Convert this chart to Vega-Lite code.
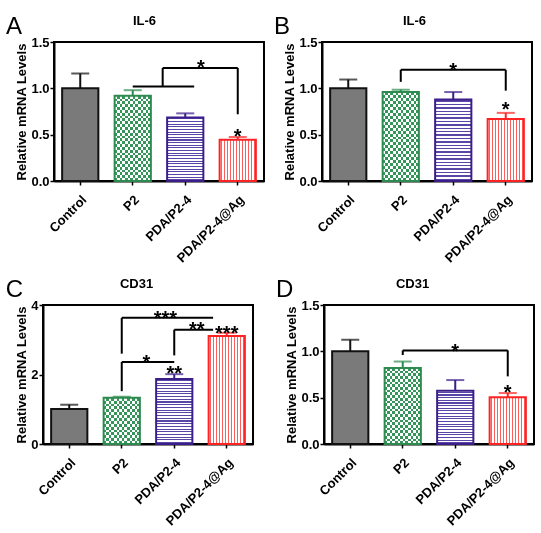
{
"$schema": "https://vega.github.io/schema/vega-lite/v6.json",
"background": "white",
"padding": {"left": 3, "top": 13, "right": 2, "bottom": 2},
"datasets": {
"bars": [
 {"panel":"A","group":"Control","mean":1.0,"upper":1.16},
 {"panel":"A","group":"P2","mean":0.92,"upper":0.98},
 {"panel":"A","group":"PDA/P2-4","mean":0.685,"upper":0.73},
 {"panel":"A","group":"PDA/P2-4@Ag","mean":0.445,"upper":0.475},
 {"panel":"B","group":"Control","mean":1.0,"upper":1.095},
 {"panel":"B","group":"P2","mean":0.96,"upper":0.985},
 {"panel":"B","group":"PDA/P2-4","mean":0.88,"upper":0.96},
 {"panel":"B","group":"PDA/P2-4@Ag","mean":0.67,"upper":0.735},
 {"panel":"C","group":"Control","mean":1.01,"upper":1.13},
 {"panel":"C","group":"P2","mean":1.33,"upper":1.36},
 {"panel":"C","group":"PDA/P2-4","mean":1.87,"upper":2.01},
 {"panel":"C","group":"PDA/P2-4@Ag","mean":3.11,"upper":3.2},
 {"panel":"D","group":"Control","mean":1.0,"upper":1.125},
 {"panel":"D","group":"P2","mean":0.82,"upper":0.89},
 {"panel":"D","group":"PDA/P2-4","mean":0.575,"upper":0.69},
 {"panel":"D","group":"PDA/P2-4@Ag","mean":0.505,"upper":0.55}
],
"barstars": [
 {"panel":"A","group":"PDA/P2-4@Ag","y":0.54,"label":"*"},
 {"panel":"B","group":"PDA/P2-4@Ag","y":0.83,"label":"*"},
 {"panel":"C","group":"PDA/P2-4","y":2.18,"label":"**"},
 {"panel":"C","group":"PDA/P2-4@Ag","y":3.35,"label":"***"},
 {"panel":"D","group":"PDA/P2-4@Ag","y":0.61,"label":"*"}
],
"lines": [
 {"panel":"A","x":2,"x2":3.17,"y":1.02,"y2":1.02},
 {"panel":"A","x":2.57,"x2":2.57,"y":1.02,"y2":1.22},
 {"panel":"A","x":2.57,"x2":4,"y":1.22,"y2":1.22},
 {"panel":"A","x":4,"x2":4,"y":1.22,"y2":0.72},
 {"panel":"B","x":2,"x2":2,"y":1.07,"y2":1.2},
 {"panel":"B","x":2,"x2":4,"y":1.2,"y2":1.2},
 {"panel":"B","x":4,"x2":4,"y":1.2,"y2":0.975},
 {"panel":"C","x":2,"x2":2,"y":1.52,"y2":2.36},
 {"panel":"C","x":2,"x2":3,"y":2.36,"y2":2.36},
 {"panel":"C","x":2,"x2":2,"y":2.6,"y2":3.63},
 {"panel":"C","x":2,"x2":3.74,"y":3.63,"y2":3.63},
 {"panel":"C","x":3,"x2":3,"y":2.55,"y2":3.29},
 {"panel":"C","x":3,"x2":3.74,"y":3.29,"y2":3.29},
 {"panel":"D","x":2,"x2":2,"y":0.96,"y2":1.01},
 {"panel":"D","x":2,"x2":4,"y":1.01,"y2":1.01},
 {"panel":"D","x":4,"x2":4,"y":1.01,"y2":0.73}
],
"brstars": [
 {"panel":"A","x":3.3,"y":1.28,"label":"*"},
 {"panel":"B","x":3.0,"y":1.25,"label":"*"},
 {"panel":"C","x":2.47,"y":2.5,"label":"*"},
 {"panel":"C","x":2.83,"y":3.76,"label":"***"},
 {"panel":"C","x":3.43,"y":3.46,"label":"**"},
 {"panel":"D","x":3.0,"y":1.06,"label":"*"}
]
},
"vconcat": [
 {"spacing": 0, "hconcat": [
  {"width": 1, "height": 1, "view": {"stroke": null}, "data": {"values": []}, "mark": "point"},
  {"spacing": 7, "hconcat": [
  {
   "width":210,"height":139,
   "title":{"text":"A","anchor":"start","frame":"bounds","fontSize":24,"fontWeight":"normal","offset":-26,"dx":-10,"dy":18,"baseline":"alphabetic","color":"#000"},
   "resolve":{"scale":{"x":"independent"}},
   "layer":[
    {"data":{"name":"bars"},"transform":[{"filter":"datum.panel === 'A'"}],
     "encoding":{
      "x":{"field":"group","type":"nominal","sort":null,"title":null,"scale":{"domain":["Control","P2","PDA/P2-4","PDA/P2-4@Ag"],"paddingInner":0,"paddingOuter":0},"axis":{"orient":"bottom","labelAngle":-45,"labelPadding":8}},
      "y":{"field":"mean","type":"quantitative","title":"Relative mRNA Levels","scale":{"domain":[0,1.5],"nice":false},"axis":{"values":[0,0.5,1,1.5],"format":".1f","titlePadding":2,"labelPadding":1}}
     },
     "layer":[
      {"transform":[{"filter":"datum.group === 'Control'"}],"mark":{"type":"bar","width":{"band":0.69},"fill":"#7a7a7a"}},
      {"transform":[{"filter":"datum.group === 'P2'"}],"mark":{"type":"bar","width":{"band":0.69},"fill":{"gradient":"linear","x1":0,"y1":0,"x2":1,"y2":0,"stops":[
{"offset":0,"color":"#c96aa5"},{"offset":0.0714,"color":"#c96aa5"},{"offset":0.0714,"color":"#000"},{"offset":0.1429,"color":"#000"},
{"offset":0.1429,"color":"#c96aa5"},{"offset":0.2143,"color":"#c96aa5"},{"offset":0.2143,"color":"#000"},{"offset":0.2857,"color":"#000"},
{"offset":0.2857,"color":"#c96aa5"},{"offset":0.3571,"color":"#c96aa5"},{"offset":0.3571,"color":"#000"},{"offset":0.4286,"color":"#000"},
{"offset":0.4286,"color":"#c96aa5"},{"offset":0.5,"color":"#c96aa5"},{"offset":0.5,"color":"#000"},{"offset":0.5714,"color":"#000"},
{"offset":0.5714,"color":"#c96aa5"},{"offset":0.6429,"color":"#c96aa5"},{"offset":0.6429,"color":"#000"},{"offset":0.7143,"color":"#000"},
{"offset":0.7143,"color":"#c96aa5"},{"offset":0.7857,"color":"#c96aa5"},{"offset":0.7857,"color":"#000"},{"offset":0.8571,"color":"#000"},
{"offset":0.8571,"color":"#c96aa5"},{"offset":0.9286,"color":"#c96aa5"},{"offset":0.9286,"color":"#000"},{"offset":1,"color":"#000"}]}}},
      {"transform":[{"filter":"datum.group === 'P2'"}],"mark":{"type":"bar","width":{"band":0.69},"blend":"difference","fill":{"gradient":"linear","x1":0,"y1":0,"x2":0,"y2":1,"stops":[
{"offset":0,"color":"#c96aa5"},{"offset":0.0333,"color":"#c96aa5"},{"offset":0.0333,"color":"#000"},{"offset":0.0667,"color":"#000"},
{"offset":0.0667,"color":"#c96aa5"},{"offset":0.1,"color":"#c96aa5"},{"offset":0.1,"color":"#000"},{"offset":0.1333,"color":"#000"},
{"offset":0.1333,"color":"#c96aa5"},{"offset":0.1667,"color":"#c96aa5"},{"offset":0.1667,"color":"#000"},{"offset":0.2,"color":"#000"},
{"offset":0.2,"color":"#c96aa5"},{"offset":0.2333,"color":"#c96aa5"},{"offset":0.2333,"color":"#000"},{"offset":0.2667,"color":"#000"},
{"offset":0.2667,"color":"#c96aa5"},{"offset":0.3,"color":"#c96aa5"},{"offset":0.3,"color":"#000"},{"offset":0.3333,"color":"#000"},
{"offset":0.3333,"color":"#c96aa5"},{"offset":0.3667,"color":"#c96aa5"},{"offset":0.3667,"color":"#000"},{"offset":0.4,"color":"#000"},
{"offset":0.4,"color":"#c96aa5"},{"offset":0.4333,"color":"#c96aa5"},{"offset":0.4333,"color":"#000"},{"offset":0.4667,"color":"#000"},
{"offset":0.4667,"color":"#c96aa5"},{"offset":0.5,"color":"#c96aa5"},{"offset":0.5,"color":"#000"},{"offset":0.5333,"color":"#000"},
{"offset":0.5333,"color":"#c96aa5"},{"offset":0.5667,"color":"#c96aa5"},{"offset":0.5667,"color":"#000"},{"offset":0.6,"color":"#000"},
{"offset":0.6,"color":"#c96aa5"},{"offset":0.6333,"color":"#c96aa5"},{"offset":0.6333,"color":"#000"},{"offset":0.6667,"color":"#000"},
{"offset":0.6667,"color":"#c96aa5"},{"offset":0.7,"color":"#c96aa5"},{"offset":0.7,"color":"#000"},{"offset":0.7333,"color":"#000"},
{"offset":0.7333,"color":"#c96aa5"},{"offset":0.7667,"color":"#c96aa5"},{"offset":0.7667,"color":"#000"},{"offset":0.8,"color":"#000"},
{"offset":0.8,"color":"#c96aa5"},{"offset":0.8333,"color":"#c96aa5"},{"offset":0.8333,"color":"#000"},{"offset":0.8667,"color":"#000"},
{"offset":0.8667,"color":"#c96aa5"},{"offset":0.9,"color":"#c96aa5"},{"offset":0.9,"color":"#000"},{"offset":0.9333,"color":"#000"},
{"offset":0.9333,"color":"#c96aa5"},{"offset":0.9667,"color":"#c96aa5"},{"offset":0.9667,"color":"#000"},{"offset":1,"color":"#000"}]}}},
      {"transform":[{"filter":"datum.group === 'P2'"}],"mark":{"type":"bar","width":{"band":0.69},"fill":"#fff","blend":"difference"}},
      {"transform":[{"filter":"datum.group === 'PDA/P2-4'"}],"mark":{"type":"bar","width":{"band":0.69},"fill":{"gradient":"linear","x1":0,"y1":0,"x2":0,"y2":1,"stops":[
{"offset":0,"color":"#fff"},
{"offset":0.0125,"color":"#fff"},{"offset":0.0125,"color":"#5a46a6"},{"offset":0.0292,"color":"#5a46a6"},{"offset":0.0292,"color":"#fff"},
{"offset":0.0542,"color":"#fff"},{"offset":0.0542,"color":"#5a46a6"},{"offset":0.0708,"color":"#5a46a6"},{"offset":0.0708,"color":"#fff"},
{"offset":0.0958,"color":"#fff"},{"offset":0.0958,"color":"#5a46a6"},{"offset":0.1125,"color":"#5a46a6"},{"offset":0.1125,"color":"#fff"},
{"offset":0.1375,"color":"#fff"},{"offset":0.1375,"color":"#5a46a6"},{"offset":0.1542,"color":"#5a46a6"},{"offset":0.1542,"color":"#fff"},
{"offset":0.1792,"color":"#fff"},{"offset":0.1792,"color":"#5a46a6"},{"offset":0.1958,"color":"#5a46a6"},{"offset":0.1958,"color":"#fff"},
{"offset":0.2208,"color":"#fff"},{"offset":0.2208,"color":"#5a46a6"},{"offset":0.2375,"color":"#5a46a6"},{"offset":0.2375,"color":"#fff"},
{"offset":0.2625,"color":"#fff"},{"offset":0.2625,"color":"#5a46a6"},{"offset":0.2792,"color":"#5a46a6"},{"offset":0.2792,"color":"#fff"},
{"offset":0.3042,"color":"#fff"},{"offset":0.3042,"color":"#5a46a6"},{"offset":0.3208,"color":"#5a46a6"},{"offset":0.3208,"color":"#fff"},
{"offset":0.3458,"color":"#fff"},{"offset":0.3458,"color":"#5a46a6"},{"offset":0.3625,"color":"#5a46a6"},{"offset":0.3625,"color":"#fff"},
{"offset":0.3875,"color":"#fff"},{"offset":0.3875,"color":"#5a46a6"},{"offset":0.4042,"color":"#5a46a6"},{"offset":0.4042,"color":"#fff"},
{"offset":0.4292,"color":"#fff"},{"offset":0.4292,"color":"#5a46a6"},{"offset":0.4458,"color":"#5a46a6"},{"offset":0.4458,"color":"#fff"},
{"offset":0.4708,"color":"#fff"},{"offset":0.4708,"color":"#5a46a6"},{"offset":0.4875,"color":"#5a46a6"},{"offset":0.4875,"color":"#fff"},
{"offset":0.5125,"color":"#fff"},{"offset":0.5125,"color":"#5a46a6"},{"offset":0.5292,"color":"#5a46a6"},{"offset":0.5292,"color":"#fff"},
{"offset":0.5542,"color":"#fff"},{"offset":0.5542,"color":"#5a46a6"},{"offset":0.5708,"color":"#5a46a6"},{"offset":0.5708,"color":"#fff"},
{"offset":0.5958,"color":"#fff"},{"offset":0.5958,"color":"#5a46a6"},{"offset":0.6125,"color":"#5a46a6"},{"offset":0.6125,"color":"#fff"},
{"offset":0.6375,"color":"#fff"},{"offset":0.6375,"color":"#5a46a6"},{"offset":0.6542,"color":"#5a46a6"},{"offset":0.6542,"color":"#fff"},
{"offset":0.6792,"color":"#fff"},{"offset":0.6792,"color":"#5a46a6"},{"offset":0.6958,"color":"#5a46a6"},{"offset":0.6958,"color":"#fff"},
{"offset":0.7208,"color":"#fff"},{"offset":0.7208,"color":"#5a46a6"},{"offset":0.7375,"color":"#5a46a6"},{"offset":0.7375,"color":"#fff"},
{"offset":0.7625,"color":"#fff"},{"offset":0.7625,"color":"#5a46a6"},{"offset":0.7792,"color":"#5a46a6"},{"offset":0.7792,"color":"#fff"},
{"offset":0.8042,"color":"#fff"},{"offset":0.8042,"color":"#5a46a6"},{"offset":0.8208,"color":"#5a46a6"},{"offset":0.8208,"color":"#fff"},
{"offset":0.8458,"color":"#fff"},{"offset":0.8458,"color":"#5a46a6"},{"offset":0.8625,"color":"#5a46a6"},{"offset":0.8625,"color":"#fff"},
{"offset":0.8875,"color":"#fff"},{"offset":0.8875,"color":"#5a46a6"},{"offset":0.9042,"color":"#5a46a6"},{"offset":0.9042,"color":"#fff"},
{"offset":0.9292,"color":"#fff"},{"offset":0.9292,"color":"#5a46a6"},{"offset":0.9458,"color":"#5a46a6"},{"offset":0.9458,"color":"#fff"},
{"offset":0.9708,"color":"#fff"},{"offset":0.9708,"color":"#5a46a6"},{"offset":0.9875,"color":"#5a46a6"},{"offset":0.9875,"color":"#fff"},
{"offset":1,"color":"#fff"}]}}},
      {"transform":[{"filter":"datum.group === 'PDA/P2-4@Ag'"}],"mark":{"type":"bar","width":{"band":0.69},"fill":{"gradient":"linear","x1":0,"y1":0,"x2":1,"y2":0,"stops":[
{"offset":0,"color":"#fff"},
{"offset":0.03,"color":"#fff"},{"offset":0.03,"color":"#ff5c5c"},{"offset":0.06,"color":"#ff5c5c"},{"offset":0.06,"color":"#fff"},
{"offset":0.1133,"color":"#fff"},{"offset":0.1133,"color":"#ff5c5c"},{"offset":0.1433,"color":"#ff5c5c"},{"offset":0.1433,"color":"#fff"},
{"offset":0.1967,"color":"#fff"},{"offset":0.1967,"color":"#ff5c5c"},{"offset":0.2267,"color":"#ff5c5c"},{"offset":0.2267,"color":"#fff"},
{"offset":0.28,"color":"#fff"},{"offset":0.28,"color":"#ff5c5c"},{"offset":0.31,"color":"#ff5c5c"},{"offset":0.31,"color":"#fff"},
{"offset":0.3633,"color":"#fff"},{"offset":0.3633,"color":"#ff5c5c"},{"offset":0.3933,"color":"#ff5c5c"},{"offset":0.3933,"color":"#fff"},
{"offset":0.4467,"color":"#fff"},{"offset":0.4467,"color":"#ff5c5c"},{"offset":0.4767,"color":"#ff5c5c"},{"offset":0.4767,"color":"#fff"},
{"offset":0.53,"color":"#fff"},{"offset":0.53,"color":"#ff5c5c"},{"offset":0.56,"color":"#ff5c5c"},{"offset":0.56,"color":"#fff"},
{"offset":0.6133,"color":"#fff"},{"offset":0.6133,"color":"#ff5c5c"},{"offset":0.6433,"color":"#ff5c5c"},{"offset":0.6433,"color":"#fff"},
{"offset":0.6967,"color":"#fff"},{"offset":0.6967,"color":"#ff5c5c"},{"offset":0.7267,"color":"#ff5c5c"},{"offset":0.7267,"color":"#fff"},
{"offset":0.78,"color":"#fff"},{"offset":0.78,"color":"#ff5c5c"},{"offset":0.81,"color":"#ff5c5c"},{"offset":0.81,"color":"#fff"},
{"offset":0.8633,"color":"#fff"},{"offset":0.8633,"color":"#ff5c5c"},{"offset":0.8933,"color":"#ff5c5c"},{"offset":0.8933,"color":"#fff"},
{"offset":0.9467,"color":"#fff"},{"offset":0.9467,"color":"#ff5c5c"},{"offset":0.9767,"color":"#ff5c5c"},{"offset":0.9767,"color":"#fff"},
{"offset":1,"color":"#fff"}]}}},
      {"mark":{"type":"bar","width":{"band":0.69},"filled":false,"strokeWidth":2},"encoding":{"color":{"field":"group","type":"nominal","scale":{"domain":["Control","P2","PDA/P2-4","PDA/P2-4@Ag"],"range":["#111111","#2e8b50","#3b1e8a","#ff2222"]},"legend":null}}},
      {"mark":{"type":"rule","strokeWidth":2},"encoding":{"y2":{"field":"upper"},"color":{"field":"group","type":"nominal","legend":null}}},
      {"mark":{"type":"tick","size":18,"thickness":2},"encoding":{"y":{"field":"upper","type":"quantitative","title":"Relative mRNA Levels"},"color":{"field":"group","type":"nominal","legend":null}}},
      {"data":{"name":"barstars"},"transform":[{"filter":"datum.panel === 'A'"}],"mark":{"type":"text","fontSize":20,"fontWeight":"bold","baseline":"alphabetic","dy":12,"color":"#000"},"encoding":{"y":{"field":"y","type":"quantitative","title":"Relative mRNA Levels"},"text":{"field":"label"}}}
     ]
    },
    {"data":{"name":"lines"},"transform":[{"filter":"datum.panel === 'A'"}],
     "encoding":{
      "x":{"field":"x","type":"quantitative","scale":{"domain":[0.5,4.5],"nice":false,"zero":false},"axis":{"orient":"top","title":"IL-6","labels":false,"ticks":false,"domain":false,"grid":false,"titlePadding":15,"titleX":90,"titleAlign":"center"}},
      "y":{"field":"y","type":"quantitative","title":"Relative mRNA Levels","scale":{"domain":[0,1.5],"nice":false}}
     },
     "layer":[
      {"mark":{"type":"rule","strokeWidth":2,"color":"#000"},"encoding":{"x2":{"field":"x2"},"y2":{"field":"y2"}}},
      {"data":{"name":"brstars"},"transform":[{"filter":"datum.panel === 'A'"}],"mark":{"type":"text","fontSize":20,"fontWeight":"bold","baseline":"alphabetic","dy":12,"color":"#000"},"encoding":{"text":{"field":"label"}}}
     ]
    }
   ]
  },
  {
   "width":210,"height":139,
   "title":{"text":"B","anchor":"start","frame":"bounds","fontSize":24,"fontWeight":"normal","offset":-26,"dx":-10,"dy":18,"baseline":"alphabetic","color":"#000"},
   "resolve":{"scale":{"x":"independent"}},
   "layer":[
    {"data":{"name":"bars"},"transform":[{"filter":"datum.panel === 'B'"}],
     "encoding":{
      "x":{"field":"group","type":"nominal","sort":null,"title":null,"scale":{"domain":["Control","P2","PDA/P2-4","PDA/P2-4@Ag"],"paddingInner":0,"paddingOuter":0},"axis":{"orient":"bottom","labelAngle":-45,"labelPadding":8}},
      "y":{"field":"mean","type":"quantitative","title":"Relative mRNA Levels","scale":{"domain":[0,1.5],"nice":false},"axis":{"values":[0,0.5,1,1.5],"format":".1f","titlePadding":2,"labelPadding":1}}
     },
     "layer":[
      {"transform":[{"filter":"datum.group === 'Control'"}],"mark":{"type":"bar","width":{"band":0.69},"fill":"#7a7a7a"}},
      {"transform":[{"filter":"datum.group === 'P2'"}],"mark":{"type":"bar","width":{"band":0.69},"fill":{"gradient":"linear","x1":0,"y1":0,"x2":1,"y2":0,"stops":[
{"offset":0,"color":"#c96aa5"},{"offset":0.0714,"color":"#c96aa5"},{"offset":0.0714,"color":"#000"},{"offset":0.1429,"color":"#000"},
{"offset":0.1429,"color":"#c96aa5"},{"offset":0.2143,"color":"#c96aa5"},{"offset":0.2143,"color":"#000"},{"offset":0.2857,"color":"#000"},
{"offset":0.2857,"color":"#c96aa5"},{"offset":0.3571,"color":"#c96aa5"},{"offset":0.3571,"color":"#000"},{"offset":0.4286,"color":"#000"},
{"offset":0.4286,"color":"#c96aa5"},{"offset":0.5,"color":"#c96aa5"},{"offset":0.5,"color":"#000"},{"offset":0.5714,"color":"#000"},
{"offset":0.5714,"color":"#c96aa5"},{"offset":0.6429,"color":"#c96aa5"},{"offset":0.6429,"color":"#000"},{"offset":0.7143,"color":"#000"},
{"offset":0.7143,"color":"#c96aa5"},{"offset":0.7857,"color":"#c96aa5"},{"offset":0.7857,"color":"#000"},{"offset":0.8571,"color":"#000"},
{"offset":0.8571,"color":"#c96aa5"},{"offset":0.9286,"color":"#c96aa5"},{"offset":0.9286,"color":"#000"},{"offset":1,"color":"#000"}]}}},
      {"transform":[{"filter":"datum.group === 'P2'"}],"mark":{"type":"bar","width":{"band":0.69},"blend":"difference","fill":{"gradient":"linear","x1":0,"y1":0,"x2":0,"y2":1,"stops":[
{"offset":0,"color":"#c96aa5"},{"offset":0.0333,"color":"#c96aa5"},{"offset":0.0333,"color":"#000"},{"offset":0.0667,"color":"#000"},
{"offset":0.0667,"color":"#c96aa5"},{"offset":0.1,"color":"#c96aa5"},{"offset":0.1,"color":"#000"},{"offset":0.1333,"color":"#000"},
{"offset":0.1333,"color":"#c96aa5"},{"offset":0.1667,"color":"#c96aa5"},{"offset":0.1667,"color":"#000"},{"offset":0.2,"color":"#000"},
{"offset":0.2,"color":"#c96aa5"},{"offset":0.2333,"color":"#c96aa5"},{"offset":0.2333,"color":"#000"},{"offset":0.2667,"color":"#000"},
{"offset":0.2667,"color":"#c96aa5"},{"offset":0.3,"color":"#c96aa5"},{"offset":0.3,"color":"#000"},{"offset":0.3333,"color":"#000"},
{"offset":0.3333,"color":"#c96aa5"},{"offset":0.3667,"color":"#c96aa5"},{"offset":0.3667,"color":"#000"},{"offset":0.4,"color":"#000"},
{"offset":0.4,"color":"#c96aa5"},{"offset":0.4333,"color":"#c96aa5"},{"offset":0.4333,"color":"#000"},{"offset":0.4667,"color":"#000"},
{"offset":0.4667,"color":"#c96aa5"},{"offset":0.5,"color":"#c96aa5"},{"offset":0.5,"color":"#000"},{"offset":0.5333,"color":"#000"},
{"offset":0.5333,"color":"#c96aa5"},{"offset":0.5667,"color":"#c96aa5"},{"offset":0.5667,"color":"#000"},{"offset":0.6,"color":"#000"},
{"offset":0.6,"color":"#c96aa5"},{"offset":0.6333,"color":"#c96aa5"},{"offset":0.6333,"color":"#000"},{"offset":0.6667,"color":"#000"},
{"offset":0.6667,"color":"#c96aa5"},{"offset":0.7,"color":"#c96aa5"},{"offset":0.7,"color":"#000"},{"offset":0.7333,"color":"#000"},
{"offset":0.7333,"color":"#c96aa5"},{"offset":0.7667,"color":"#c96aa5"},{"offset":0.7667,"color":"#000"},{"offset":0.8,"color":"#000"},
{"offset":0.8,"color":"#c96aa5"},{"offset":0.8333,"color":"#c96aa5"},{"offset":0.8333,"color":"#000"},{"offset":0.8667,"color":"#000"},
{"offset":0.8667,"color":"#c96aa5"},{"offset":0.9,"color":"#c96aa5"},{"offset":0.9,"color":"#000"},{"offset":0.9333,"color":"#000"},
{"offset":0.9333,"color":"#c96aa5"},{"offset":0.9667,"color":"#c96aa5"},{"offset":0.9667,"color":"#000"},{"offset":1,"color":"#000"}]}}},
      {"transform":[{"filter":"datum.group === 'P2'"}],"mark":{"type":"bar","width":{"band":0.69},"fill":"#fff","blend":"difference"}},
      {"transform":[{"filter":"datum.group === 'PDA/P2-4'"}],"mark":{"type":"bar","width":{"band":0.69},"fill":{"gradient":"linear","x1":0,"y1":0,"x2":0,"y2":1,"stops":[
{"offset":0,"color":"#fff"},
{"offset":0.0125,"color":"#fff"},{"offset":0.0125,"color":"#5a46a6"},{"offset":0.0292,"color":"#5a46a6"},{"offset":0.0292,"color":"#fff"},
{"offset":0.0542,"color":"#fff"},{"offset":0.0542,"color":"#5a46a6"},{"offset":0.0708,"color":"#5a46a6"},{"offset":0.0708,"color":"#fff"},
{"offset":0.0958,"color":"#fff"},{"offset":0.0958,"color":"#5a46a6"},{"offset":0.1125,"color":"#5a46a6"},{"offset":0.1125,"color":"#fff"},
{"offset":0.1375,"color":"#fff"},{"offset":0.1375,"color":"#5a46a6"},{"offset":0.1542,"color":"#5a46a6"},{"offset":0.1542,"color":"#fff"},
{"offset":0.1792,"color":"#fff"},{"offset":0.1792,"color":"#5a46a6"},{"offset":0.1958,"color":"#5a46a6"},{"offset":0.1958,"color":"#fff"},
{"offset":0.2208,"color":"#fff"},{"offset":0.2208,"color":"#5a46a6"},{"offset":0.2375,"color":"#5a46a6"},{"offset":0.2375,"color":"#fff"},
{"offset":0.2625,"color":"#fff"},{"offset":0.2625,"color":"#5a46a6"},{"offset":0.2792,"color":"#5a46a6"},{"offset":0.2792,"color":"#fff"},
{"offset":0.3042,"color":"#fff"},{"offset":0.3042,"color":"#5a46a6"},{"offset":0.3208,"color":"#5a46a6"},{"offset":0.3208,"color":"#fff"},
{"offset":0.3458,"color":"#fff"},{"offset":0.3458,"color":"#5a46a6"},{"offset":0.3625,"color":"#5a46a6"},{"offset":0.3625,"color":"#fff"},
{"offset":0.3875,"color":"#fff"},{"offset":0.3875,"color":"#5a46a6"},{"offset":0.4042,"color":"#5a46a6"},{"offset":0.4042,"color":"#fff"},
{"offset":0.4292,"color":"#fff"},{"offset":0.4292,"color":"#5a46a6"},{"offset":0.4458,"color":"#5a46a6"},{"offset":0.4458,"color":"#fff"},
{"offset":0.4708,"color":"#fff"},{"offset":0.4708,"color":"#5a46a6"},{"offset":0.4875,"color":"#5a46a6"},{"offset":0.4875,"color":"#fff"},
{"offset":0.5125,"color":"#fff"},{"offset":0.5125,"color":"#5a46a6"},{"offset":0.5292,"color":"#5a46a6"},{"offset":0.5292,"color":"#fff"},
{"offset":0.5542,"color":"#fff"},{"offset":0.5542,"color":"#5a46a6"},{"offset":0.5708,"color":"#5a46a6"},{"offset":0.5708,"color":"#fff"},
{"offset":0.5958,"color":"#fff"},{"offset":0.5958,"color":"#5a46a6"},{"offset":0.6125,"color":"#5a46a6"},{"offset":0.6125,"color":"#fff"},
{"offset":0.6375,"color":"#fff"},{"offset":0.6375,"color":"#5a46a6"},{"offset":0.6542,"color":"#5a46a6"},{"offset":0.6542,"color":"#fff"},
{"offset":0.6792,"color":"#fff"},{"offset":0.6792,"color":"#5a46a6"},{"offset":0.6958,"color":"#5a46a6"},{"offset":0.6958,"color":"#fff"},
{"offset":0.7208,"color":"#fff"},{"offset":0.7208,"color":"#5a46a6"},{"offset":0.7375,"color":"#5a46a6"},{"offset":0.7375,"color":"#fff"},
{"offset":0.7625,"color":"#fff"},{"offset":0.7625,"color":"#5a46a6"},{"offset":0.7792,"color":"#5a46a6"},{"offset":0.7792,"color":"#fff"},
{"offset":0.8042,"color":"#fff"},{"offset":0.8042,"color":"#5a46a6"},{"offset":0.8208,"color":"#5a46a6"},{"offset":0.8208,"color":"#fff"},
{"offset":0.8458,"color":"#fff"},{"offset":0.8458,"color":"#5a46a6"},{"offset":0.8625,"color":"#5a46a6"},{"offset":0.8625,"color":"#fff"},
{"offset":0.8875,"color":"#fff"},{"offset":0.8875,"color":"#5a46a6"},{"offset":0.9042,"color":"#5a46a6"},{"offset":0.9042,"color":"#fff"},
{"offset":0.9292,"color":"#fff"},{"offset":0.9292,"color":"#5a46a6"},{"offset":0.9458,"color":"#5a46a6"},{"offset":0.9458,"color":"#fff"},
{"offset":0.9708,"color":"#fff"},{"offset":0.9708,"color":"#5a46a6"},{"offset":0.9875,"color":"#5a46a6"},{"offset":0.9875,"color":"#fff"},
{"offset":1,"color":"#fff"}]}}},
      {"transform":[{"filter":"datum.group === 'PDA/P2-4@Ag'"}],"mark":{"type":"bar","width":{"band":0.69},"fill":{"gradient":"linear","x1":0,"y1":0,"x2":1,"y2":0,"stops":[
{"offset":0,"color":"#fff"},
{"offset":0.03,"color":"#fff"},{"offset":0.03,"color":"#ff5c5c"},{"offset":0.06,"color":"#ff5c5c"},{"offset":0.06,"color":"#fff"},
{"offset":0.1133,"color":"#fff"},{"offset":0.1133,"color":"#ff5c5c"},{"offset":0.1433,"color":"#ff5c5c"},{"offset":0.1433,"color":"#fff"},
{"offset":0.1967,"color":"#fff"},{"offset":0.1967,"color":"#ff5c5c"},{"offset":0.2267,"color":"#ff5c5c"},{"offset":0.2267,"color":"#fff"},
{"offset":0.28,"color":"#fff"},{"offset":0.28,"color":"#ff5c5c"},{"offset":0.31,"color":"#ff5c5c"},{"offset":0.31,"color":"#fff"},
{"offset":0.3633,"color":"#fff"},{"offset":0.3633,"color":"#ff5c5c"},{"offset":0.3933,"color":"#ff5c5c"},{"offset":0.3933,"color":"#fff"},
{"offset":0.4467,"color":"#fff"},{"offset":0.4467,"color":"#ff5c5c"},{"offset":0.4767,"color":"#ff5c5c"},{"offset":0.4767,"color":"#fff"},
{"offset":0.53,"color":"#fff"},{"offset":0.53,"color":"#ff5c5c"},{"offset":0.56,"color":"#ff5c5c"},{"offset":0.56,"color":"#fff"},
{"offset":0.6133,"color":"#fff"},{"offset":0.6133,"color":"#ff5c5c"},{"offset":0.6433,"color":"#ff5c5c"},{"offset":0.6433,"color":"#fff"},
{"offset":0.6967,"color":"#fff"},{"offset":0.6967,"color":"#ff5c5c"},{"offset":0.7267,"color":"#ff5c5c"},{"offset":0.7267,"color":"#fff"},
{"offset":0.78,"color":"#fff"},{"offset":0.78,"color":"#ff5c5c"},{"offset":0.81,"color":"#ff5c5c"},{"offset":0.81,"color":"#fff"},
{"offset":0.8633,"color":"#fff"},{"offset":0.8633,"color":"#ff5c5c"},{"offset":0.8933,"color":"#ff5c5c"},{"offset":0.8933,"color":"#fff"},
{"offset":0.9467,"color":"#fff"},{"offset":0.9467,"color":"#ff5c5c"},{"offset":0.9767,"color":"#ff5c5c"},{"offset":0.9767,"color":"#fff"},
{"offset":1,"color":"#fff"}]}}},
      {"mark":{"type":"bar","width":{"band":0.69},"filled":false,"strokeWidth":2},"encoding":{"color":{"field":"group","type":"nominal","scale":{"domain":["Control","P2","PDA/P2-4","PDA/P2-4@Ag"],"range":["#111111","#2e8b50","#3b1e8a","#ff2222"]},"legend":null}}},
      {"mark":{"type":"rule","strokeWidth":2},"encoding":{"y2":{"field":"upper"},"color":{"field":"group","type":"nominal","legend":null}}},
      {"mark":{"type":"tick","size":18,"thickness":2},"encoding":{"y":{"field":"upper","type":"quantitative","title":"Relative mRNA Levels"},"color":{"field":"group","type":"nominal","legend":null}}},
      {"data":{"name":"barstars"},"transform":[{"filter":"datum.panel === 'B'"}],"mark":{"type":"text","fontSize":20,"fontWeight":"bold","baseline":"alphabetic","dy":12,"color":"#000"},"encoding":{"y":{"field":"y","type":"quantitative","title":"Relative mRNA Levels"},"text":{"field":"label"}}}
     ]
    },
    {"data":{"name":"lines"},"transform":[{"filter":"datum.panel === 'B'"}],
     "encoding":{
      "x":{"field":"x","type":"quantitative","scale":{"domain":[0.5,4.5],"nice":false,"zero":false},"axis":{"orient":"top","title":"IL-6","labels":false,"ticks":false,"domain":false,"grid":false,"titlePadding":15,"titleX":92,"titleAlign":"center"}},
      "y":{"field":"y","type":"quantitative","title":"Relative mRNA Levels","scale":{"domain":[0,1.5],"nice":false}}
     },
     "layer":[
      {"mark":{"type":"rule","strokeWidth":2,"color":"#000"},"encoding":{"x2":{"field":"x2"},"y2":{"field":"y2"}}},
      {"data":{"name":"brstars"},"transform":[{"filter":"datum.panel === 'B'"}],"mark":{"type":"text","fontSize":20,"fontWeight":"bold","baseline":"alphabetic","dy":12,"color":"#000"},"encoding":{"text":{"field":"label"}}}
     ]
    }
   ]
  }
  ]}
 ]},
 {"spacing": 0, "hconcat": [
  {"width": 1, "height": 1, "view": {"stroke": null}, "data": {"values": []}, "mark": "point"},
  {"spacing": 20, "hconcat": [
  {
   "width":210,"height":139,
   "title":{"text":"C","anchor":"start","frame":"bounds","fontSize":24,"fontWeight":"normal","offset":-26,"dx":-10,"dy":18,"baseline":"alphabetic","color":"#000"},
   "resolve":{"scale":{"x":"independent"}},
   "layer":[
    {"data":{"name":"bars"},"transform":[{"filter":"datum.panel === 'C'"}],
     "encoding":{
      "x":{"field":"group","type":"nominal","sort":null,"title":null,"scale":{"domain":["Control","P2","PDA/P2-4","PDA/P2-4@Ag"],"paddingInner":0,"paddingOuter":0},"axis":{"orient":"bottom","labelAngle":-45,"labelPadding":8}},
      "y":{"field":"mean","type":"quantitative","title":"Relative mRNA Levels","scale":{"domain":[0,4],"nice":false},"axis":{"values":[0,1,2,3,4],"format":"d","titlePadding":2,"labelPadding":1}}
     },
     "layer":[
      {"transform":[{"filter":"datum.group === 'Control'"}],"mark":{"type":"bar","width":{"band":0.69},"fill":"#7a7a7a"}},
      {"transform":[{"filter":"datum.group === 'P2'"}],"mark":{"type":"bar","width":{"band":0.69},"fill":{"gradient":"linear","x1":0,"y1":0,"x2":1,"y2":0,"stops":[
{"offset":0,"color":"#c96aa5"},{"offset":0.0714,"color":"#c96aa5"},{"offset":0.0714,"color":"#000"},{"offset":0.1429,"color":"#000"},
{"offset":0.1429,"color":"#c96aa5"},{"offset":0.2143,"color":"#c96aa5"},{"offset":0.2143,"color":"#000"},{"offset":0.2857,"color":"#000"},
{"offset":0.2857,"color":"#c96aa5"},{"offset":0.3571,"color":"#c96aa5"},{"offset":0.3571,"color":"#000"},{"offset":0.4286,"color":"#000"},
{"offset":0.4286,"color":"#c96aa5"},{"offset":0.5,"color":"#c96aa5"},{"offset":0.5,"color":"#000"},{"offset":0.5714,"color":"#000"},
{"offset":0.5714,"color":"#c96aa5"},{"offset":0.6429,"color":"#c96aa5"},{"offset":0.6429,"color":"#000"},{"offset":0.7143,"color":"#000"},
{"offset":0.7143,"color":"#c96aa5"},{"offset":0.7857,"color":"#c96aa5"},{"offset":0.7857,"color":"#000"},{"offset":0.8571,"color":"#000"},
{"offset":0.8571,"color":"#c96aa5"},{"offset":0.9286,"color":"#c96aa5"},{"offset":0.9286,"color":"#000"},{"offset":1,"color":"#000"}]}}},
      {"transform":[{"filter":"datum.group === 'P2'"}],"mark":{"type":"bar","width":{"band":0.69},"blend":"difference","fill":{"gradient":"linear","x1":0,"y1":0,"x2":0,"y2":1,"stops":[
{"offset":0,"color":"#c96aa5"},{"offset":0.0625,"color":"#c96aa5"},{"offset":0.0625,"color":"#000"},{"offset":0.125,"color":"#000"},
{"offset":0.125,"color":"#c96aa5"},{"offset":0.1875,"color":"#c96aa5"},{"offset":0.1875,"color":"#000"},{"offset":0.25,"color":"#000"},
{"offset":0.25,"color":"#c96aa5"},{"offset":0.3125,"color":"#c96aa5"},{"offset":0.3125,"color":"#000"},{"offset":0.375,"color":"#000"},
{"offset":0.375,"color":"#c96aa5"},{"offset":0.4375,"color":"#c96aa5"},{"offset":0.4375,"color":"#000"},{"offset":0.5,"color":"#000"},
{"offset":0.5,"color":"#c96aa5"},{"offset":0.5625,"color":"#c96aa5"},{"offset":0.5625,"color":"#000"},{"offset":0.625,"color":"#000"},
{"offset":0.625,"color":"#c96aa5"},{"offset":0.6875,"color":"#c96aa5"},{"offset":0.6875,"color":"#000"},{"offset":0.75,"color":"#000"},
{"offset":0.75,"color":"#c96aa5"},{"offset":0.8125,"color":"#c96aa5"},{"offset":0.8125,"color":"#000"},{"offset":0.875,"color":"#000"},
{"offset":0.875,"color":"#c96aa5"},{"offset":0.9375,"color":"#c96aa5"},{"offset":0.9375,"color":"#000"},{"offset":1,"color":"#000"}]}}},
      {"transform":[{"filter":"datum.group === 'P2'"}],"mark":{"type":"bar","width":{"band":0.69},"fill":"#fff","blend":"difference"}},
      {"transform":[{"filter":"datum.group === 'PDA/P2-4'"}],"mark":{"type":"bar","width":{"band":0.69},"fill":{"gradient":"linear","x1":0,"y1":0,"x2":0,"y2":1,"stops":[
{"offset":0,"color":"#fff"},
{"offset":0.0125,"color":"#fff"},{"offset":0.0125,"color":"#5a46a6"},{"offset":0.0292,"color":"#5a46a6"},{"offset":0.0292,"color":"#fff"},
{"offset":0.0542,"color":"#fff"},{"offset":0.0542,"color":"#5a46a6"},{"offset":0.0708,"color":"#5a46a6"},{"offset":0.0708,"color":"#fff"},
{"offset":0.0958,"color":"#fff"},{"offset":0.0958,"color":"#5a46a6"},{"offset":0.1125,"color":"#5a46a6"},{"offset":0.1125,"color":"#fff"},
{"offset":0.1375,"color":"#fff"},{"offset":0.1375,"color":"#5a46a6"},{"offset":0.1542,"color":"#5a46a6"},{"offset":0.1542,"color":"#fff"},
{"offset":0.1792,"color":"#fff"},{"offset":0.1792,"color":"#5a46a6"},{"offset":0.1958,"color":"#5a46a6"},{"offset":0.1958,"color":"#fff"},
{"offset":0.2208,"color":"#fff"},{"offset":0.2208,"color":"#5a46a6"},{"offset":0.2375,"color":"#5a46a6"},{"offset":0.2375,"color":"#fff"},
{"offset":0.2625,"color":"#fff"},{"offset":0.2625,"color":"#5a46a6"},{"offset":0.2792,"color":"#5a46a6"},{"offset":0.2792,"color":"#fff"},
{"offset":0.3042,"color":"#fff"},{"offset":0.3042,"color":"#5a46a6"},{"offset":0.3208,"color":"#5a46a6"},{"offset":0.3208,"color":"#fff"},
{"offset":0.3458,"color":"#fff"},{"offset":0.3458,"color":"#5a46a6"},{"offset":0.3625,"color":"#5a46a6"},{"offset":0.3625,"color":"#fff"},
{"offset":0.3875,"color":"#fff"},{"offset":0.3875,"color":"#5a46a6"},{"offset":0.4042,"color":"#5a46a6"},{"offset":0.4042,"color":"#fff"},
{"offset":0.4292,"color":"#fff"},{"offset":0.4292,"color":"#5a46a6"},{"offset":0.4458,"color":"#5a46a6"},{"offset":0.4458,"color":"#fff"},
{"offset":0.4708,"color":"#fff"},{"offset":0.4708,"color":"#5a46a6"},{"offset":0.4875,"color":"#5a46a6"},{"offset":0.4875,"color":"#fff"},
{"offset":0.5125,"color":"#fff"},{"offset":0.5125,"color":"#5a46a6"},{"offset":0.5292,"color":"#5a46a6"},{"offset":0.5292,"color":"#fff"},
{"offset":0.5542,"color":"#fff"},{"offset":0.5542,"color":"#5a46a6"},{"offset":0.5708,"color":"#5a46a6"},{"offset":0.5708,"color":"#fff"},
{"offset":0.5958,"color":"#fff"},{"offset":0.5958,"color":"#5a46a6"},{"offset":0.6125,"color":"#5a46a6"},{"offset":0.6125,"color":"#fff"},
{"offset":0.6375,"color":"#fff"},{"offset":0.6375,"color":"#5a46a6"},{"offset":0.6542,"color":"#5a46a6"},{"offset":0.6542,"color":"#fff"},
{"offset":0.6792,"color":"#fff"},{"offset":0.6792,"color":"#5a46a6"},{"offset":0.6958,"color":"#5a46a6"},{"offset":0.6958,"color":"#fff"},
{"offset":0.7208,"color":"#fff"},{"offset":0.7208,"color":"#5a46a6"},{"offset":0.7375,"color":"#5a46a6"},{"offset":0.7375,"color":"#fff"},
{"offset":0.7625,"color":"#fff"},{"offset":0.7625,"color":"#5a46a6"},{"offset":0.7792,"color":"#5a46a6"},{"offset":0.7792,"color":"#fff"},
{"offset":0.8042,"color":"#fff"},{"offset":0.8042,"color":"#5a46a6"},{"offset":0.8208,"color":"#5a46a6"},{"offset":0.8208,"color":"#fff"},
{"offset":0.8458,"color":"#fff"},{"offset":0.8458,"color":"#5a46a6"},{"offset":0.8625,"color":"#5a46a6"},{"offset":0.8625,"color":"#fff"},
{"offset":0.8875,"color":"#fff"},{"offset":0.8875,"color":"#5a46a6"},{"offset":0.9042,"color":"#5a46a6"},{"offset":0.9042,"color":"#fff"},
{"offset":0.9292,"color":"#fff"},{"offset":0.9292,"color":"#5a46a6"},{"offset":0.9458,"color":"#5a46a6"},{"offset":0.9458,"color":"#fff"},
{"offset":0.9708,"color":"#fff"},{"offset":0.9708,"color":"#5a46a6"},{"offset":0.9875,"color":"#5a46a6"},{"offset":0.9875,"color":"#fff"},
{"offset":1,"color":"#fff"}]}}},
      {"transform":[{"filter":"datum.group === 'PDA/P2-4@Ag'"}],"mark":{"type":"bar","width":{"band":0.69},"fill":{"gradient":"linear","x1":0,"y1":0,"x2":1,"y2":0,"stops":[
{"offset":0,"color":"#fff"},
{"offset":0.03,"color":"#fff"},{"offset":0.03,"color":"#ff5c5c"},{"offset":0.06,"color":"#ff5c5c"},{"offset":0.06,"color":"#fff"},
{"offset":0.1133,"color":"#fff"},{"offset":0.1133,"color":"#ff5c5c"},{"offset":0.1433,"color":"#ff5c5c"},{"offset":0.1433,"color":"#fff"},
{"offset":0.1967,"color":"#fff"},{"offset":0.1967,"color":"#ff5c5c"},{"offset":0.2267,"color":"#ff5c5c"},{"offset":0.2267,"color":"#fff"},
{"offset":0.28,"color":"#fff"},{"offset":0.28,"color":"#ff5c5c"},{"offset":0.31,"color":"#ff5c5c"},{"offset":0.31,"color":"#fff"},
{"offset":0.3633,"color":"#fff"},{"offset":0.3633,"color":"#ff5c5c"},{"offset":0.3933,"color":"#ff5c5c"},{"offset":0.3933,"color":"#fff"},
{"offset":0.4467,"color":"#fff"},{"offset":0.4467,"color":"#ff5c5c"},{"offset":0.4767,"color":"#ff5c5c"},{"offset":0.4767,"color":"#fff"},
{"offset":0.53,"color":"#fff"},{"offset":0.53,"color":"#ff5c5c"},{"offset":0.56,"color":"#ff5c5c"},{"offset":0.56,"color":"#fff"},
{"offset":0.6133,"color":"#fff"},{"offset":0.6133,"color":"#ff5c5c"},{"offset":0.6433,"color":"#ff5c5c"},{"offset":0.6433,"color":"#fff"},
{"offset":0.6967,"color":"#fff"},{"offset":0.6967,"color":"#ff5c5c"},{"offset":0.7267,"color":"#ff5c5c"},{"offset":0.7267,"color":"#fff"},
{"offset":0.78,"color":"#fff"},{"offset":0.78,"color":"#ff5c5c"},{"offset":0.81,"color":"#ff5c5c"},{"offset":0.81,"color":"#fff"},
{"offset":0.8633,"color":"#fff"},{"offset":0.8633,"color":"#ff5c5c"},{"offset":0.8933,"color":"#ff5c5c"},{"offset":0.8933,"color":"#fff"},
{"offset":0.9467,"color":"#fff"},{"offset":0.9467,"color":"#ff5c5c"},{"offset":0.9767,"color":"#ff5c5c"},{"offset":0.9767,"color":"#fff"},
{"offset":1,"color":"#fff"}]}}},
      {"mark":{"type":"bar","width":{"band":0.69},"filled":false,"strokeWidth":2},"encoding":{"color":{"field":"group","type":"nominal","scale":{"domain":["Control","P2","PDA/P2-4","PDA/P2-4@Ag"],"range":["#111111","#2e8b50","#3b1e8a","#ff2222"]},"legend":null}}},
      {"mark":{"type":"rule","strokeWidth":2},"encoding":{"y2":{"field":"upper"},"color":{"field":"group","type":"nominal","legend":null}}},
      {"mark":{"type":"tick","size":18,"thickness":2},"encoding":{"y":{"field":"upper","type":"quantitative","title":"Relative mRNA Levels"},"color":{"field":"group","type":"nominal","legend":null}}},
      {"data":{"name":"barstars"},"transform":[{"filter":"datum.panel === 'C'"}],"mark":{"type":"text","fontSize":20,"fontWeight":"bold","baseline":"alphabetic","dy":12,"color":"#000"},"encoding":{"y":{"field":"y","type":"quantitative","title":"Relative mRNA Levels"},"text":{"field":"label"}}}
     ]
    },
    {"data":{"name":"lines"},"transform":[{"filter":"datum.panel === 'C'"}],
     "encoding":{
      "x":{"field":"x","type":"quantitative","scale":{"domain":[0.5,4.5],"nice":false,"zero":false},"axis":{"orient":"top","title":"CD31","labels":false,"ticks":false,"domain":false,"grid":false,"titlePadding":15,"titleX":93,"titleAlign":"center"}},
      "y":{"field":"y","type":"quantitative","title":"Relative mRNA Levels","scale":{"domain":[0,4],"nice":false}}
     },
     "layer":[
      {"mark":{"type":"rule","strokeWidth":2,"color":"#000"},"encoding":{"x2":{"field":"x2"},"y2":{"field":"y2"}}},
      {"data":{"name":"brstars"},"transform":[{"filter":"datum.panel === 'C'"}],"mark":{"type":"text","fontSize":20,"fontWeight":"bold","baseline":"alphabetic","dy":12,"color":"#000"},"encoding":{"text":{"field":"label"}}}
     ]
    }
   ]
  },
  {
   "width":210,"height":139,
   "title":{"text":"D","anchor":"start","frame":"bounds","fontSize":24,"fontWeight":"normal","offset":-26,"dx":-10,"dy":18,"baseline":"alphabetic","color":"#000"},
   "resolve":{"scale":{"x":"independent"}},
   "layer":[
    {"data":{"name":"bars"},"transform":[{"filter":"datum.panel === 'D'"}],
     "encoding":{
      "x":{"field":"group","type":"nominal","sort":null,"title":null,"scale":{"domain":["Control","P2","PDA/P2-4","PDA/P2-4@Ag"],"paddingInner":0,"paddingOuter":0},"axis":{"orient":"bottom","labelAngle":-45,"labelPadding":8}},
      "y":{"field":"mean","type":"quantitative","title":"Relative mRNA Levels","scale":{"domain":[0,1.5],"nice":false},"axis":{"values":[0,0.5,1,1.5],"format":".1f","titlePadding":2,"labelPadding":1}}
     },
     "layer":[
      {"transform":[{"filter":"datum.group === 'Control'"}],"mark":{"type":"bar","width":{"band":0.69},"fill":"#7a7a7a"}},
      {"transform":[{"filter":"datum.group === 'P2'"}],"mark":{"type":"bar","width":{"band":0.69},"fill":{"gradient":"linear","x1":0,"y1":0,"x2":1,"y2":0,"stops":[
{"offset":0,"color":"#c96aa5"},{"offset":0.0714,"color":"#c96aa5"},{"offset":0.0714,"color":"#000"},{"offset":0.1429,"color":"#000"},
{"offset":0.1429,"color":"#c96aa5"},{"offset":0.2143,"color":"#c96aa5"},{"offset":0.2143,"color":"#000"},{"offset":0.2857,"color":"#000"},
{"offset":0.2857,"color":"#c96aa5"},{"offset":0.3571,"color":"#c96aa5"},{"offset":0.3571,"color":"#000"},{"offset":0.4286,"color":"#000"},
{"offset":0.4286,"color":"#c96aa5"},{"offset":0.5,"color":"#c96aa5"},{"offset":0.5,"color":"#000"},{"offset":0.5714,"color":"#000"},
{"offset":0.5714,"color":"#c96aa5"},{"offset":0.6429,"color":"#c96aa5"},{"offset":0.6429,"color":"#000"},{"offset":0.7143,"color":"#000"},
{"offset":0.7143,"color":"#c96aa5"},{"offset":0.7857,"color":"#c96aa5"},{"offset":0.7857,"color":"#000"},{"offset":0.8571,"color":"#000"},
{"offset":0.8571,"color":"#c96aa5"},{"offset":0.9286,"color":"#c96aa5"},{"offset":0.9286,"color":"#000"},{"offset":1,"color":"#000"}]}}},
      {"transform":[{"filter":"datum.group === 'P2'"}],"mark":{"type":"bar","width":{"band":0.69},"blend":"difference","fill":{"gradient":"linear","x1":0,"y1":0,"x2":0,"y2":1,"stops":[
{"offset":0,"color":"#c96aa5"},{"offset":0.0357,"color":"#c96aa5"},{"offset":0.0357,"color":"#000"},{"offset":0.0714,"color":"#000"},
{"offset":0.0714,"color":"#c96aa5"},{"offset":0.1071,"color":"#c96aa5"},{"offset":0.1071,"color":"#000"},{"offset":0.1429,"color":"#000"},
{"offset":0.1429,"color":"#c96aa5"},{"offset":0.1786,"color":"#c96aa5"},{"offset":0.1786,"color":"#000"},{"offset":0.2143,"color":"#000"},
{"offset":0.2143,"color":"#c96aa5"},{"offset":0.25,"color":"#c96aa5"},{"offset":0.25,"color":"#000"},{"offset":0.2857,"color":"#000"},
{"offset":0.2857,"color":"#c96aa5"},{"offset":0.3214,"color":"#c96aa5"},{"offset":0.3214,"color":"#000"},{"offset":0.3571,"color":"#000"},
{"offset":0.3571,"color":"#c96aa5"},{"offset":0.3929,"color":"#c96aa5"},{"offset":0.3929,"color":"#000"},{"offset":0.4286,"color":"#000"},
{"offset":0.4286,"color":"#c96aa5"},{"offset":0.4643,"color":"#c96aa5"},{"offset":0.4643,"color":"#000"},{"offset":0.5,"color":"#000"},
{"offset":0.5,"color":"#c96aa5"},{"offset":0.5357,"color":"#c96aa5"},{"offset":0.5357,"color":"#000"},{"offset":0.5714,"color":"#000"},
{"offset":0.5714,"color":"#c96aa5"},{"offset":0.6071,"color":"#c96aa5"},{"offset":0.6071,"color":"#000"},{"offset":0.6429,"color":"#000"},
{"offset":0.6429,"color":"#c96aa5"},{"offset":0.6786,"color":"#c96aa5"},{"offset":0.6786,"color":"#000"},{"offset":0.7143,"color":"#000"},
{"offset":0.7143,"color":"#c96aa5"},{"offset":0.75,"color":"#c96aa5"},{"offset":0.75,"color":"#000"},{"offset":0.7857,"color":"#000"},
{"offset":0.7857,"color":"#c96aa5"},{"offset":0.8214,"color":"#c96aa5"},{"offset":0.8214,"color":"#000"},{"offset":0.8571,"color":"#000"},
{"offset":0.8571,"color":"#c96aa5"},{"offset":0.8929,"color":"#c96aa5"},{"offset":0.8929,"color":"#000"},{"offset":0.9286,"color":"#000"},
{"offset":0.9286,"color":"#c96aa5"},{"offset":0.9643,"color":"#c96aa5"},{"offset":0.9643,"color":"#000"},{"offset":1,"color":"#000"}]}}},
      {"transform":[{"filter":"datum.group === 'P2'"}],"mark":{"type":"bar","width":{"band":0.69},"fill":"#fff","blend":"difference"}},
      {"transform":[{"filter":"datum.group === 'PDA/P2-4'"}],"mark":{"type":"bar","width":{"band":0.69},"fill":{"gradient":"linear","x1":0,"y1":0,"x2":0,"y2":1,"stops":[
{"offset":0,"color":"#fff"},
{"offset":0.02,"color":"#fff"},{"offset":0.02,"color":"#5a46a6"},{"offset":0.04,"color":"#5a46a6"},{"offset":0.04,"color":"#fff"},
{"offset":0.07,"color":"#fff"},{"offset":0.07,"color":"#5a46a6"},{"offset":0.09,"color":"#5a46a6"},{"offset":0.09,"color":"#fff"},
{"offset":0.12,"color":"#fff"},{"offset":0.12,"color":"#5a46a6"},{"offset":0.14,"color":"#5a46a6"},{"offset":0.14,"color":"#fff"},
{"offset":0.17,"color":"#fff"},{"offset":0.17,"color":"#5a46a6"},{"offset":0.19,"color":"#5a46a6"},{"offset":0.19,"color":"#fff"},
{"offset":0.22,"color":"#fff"},{"offset":0.22,"color":"#5a46a6"},{"offset":0.24,"color":"#5a46a6"},{"offset":0.24,"color":"#fff"},
{"offset":0.27,"color":"#fff"},{"offset":0.27,"color":"#5a46a6"},{"offset":0.29,"color":"#5a46a6"},{"offset":0.29,"color":"#fff"},
{"offset":0.32,"color":"#fff"},{"offset":0.32,"color":"#5a46a6"},{"offset":0.34,"color":"#5a46a6"},{"offset":0.34,"color":"#fff"},
{"offset":0.37,"color":"#fff"},{"offset":0.37,"color":"#5a46a6"},{"offset":0.39,"color":"#5a46a6"},{"offset":0.39,"color":"#fff"},
{"offset":0.42,"color":"#fff"},{"offset":0.42,"color":"#5a46a6"},{"offset":0.44,"color":"#5a46a6"},{"offset":0.44,"color":"#fff"},
{"offset":0.47,"color":"#fff"},{"offset":0.47,"color":"#5a46a6"},{"offset":0.49,"color":"#5a46a6"},{"offset":0.49,"color":"#fff"},
{"offset":0.52,"color":"#fff"},{"offset":0.52,"color":"#5a46a6"},{"offset":0.54,"color":"#5a46a6"},{"offset":0.54,"color":"#fff"},
{"offset":0.57,"color":"#fff"},{"offset":0.57,"color":"#5a46a6"},{"offset":0.59,"color":"#5a46a6"},{"offset":0.59,"color":"#fff"},
{"offset":0.62,"color":"#fff"},{"offset":0.62,"color":"#5a46a6"},{"offset":0.64,"color":"#5a46a6"},{"offset":0.64,"color":"#fff"},
{"offset":0.67,"color":"#fff"},{"offset":0.67,"color":"#5a46a6"},{"offset":0.69,"color":"#5a46a6"},{"offset":0.69,"color":"#fff"},
{"offset":0.72,"color":"#fff"},{"offset":0.72,"color":"#5a46a6"},{"offset":0.74,"color":"#5a46a6"},{"offset":0.74,"color":"#fff"},
{"offset":0.77,"color":"#fff"},{"offset":0.77,"color":"#5a46a6"},{"offset":0.79,"color":"#5a46a6"},{"offset":0.79,"color":"#fff"},
{"offset":0.82,"color":"#fff"},{"offset":0.82,"color":"#5a46a6"},{"offset":0.84,"color":"#5a46a6"},{"offset":0.84,"color":"#fff"},
{"offset":0.87,"color":"#fff"},{"offset":0.87,"color":"#5a46a6"},{"offset":0.89,"color":"#5a46a6"},{"offset":0.89,"color":"#fff"},
{"offset":0.92,"color":"#fff"},{"offset":0.92,"color":"#5a46a6"},{"offset":0.94,"color":"#5a46a6"},{"offset":0.94,"color":"#fff"},
{"offset":0.97,"color":"#fff"},{"offset":0.97,"color":"#5a46a6"},{"offset":0.99,"color":"#5a46a6"},{"offset":0.99,"color":"#fff"},
{"offset":1,"color":"#fff"}]}}},
      {"transform":[{"filter":"datum.group === 'PDA/P2-4@Ag'"}],"mark":{"type":"bar","width":{"band":0.69},"fill":{"gradient":"linear","x1":0,"y1":0,"x2":1,"y2":0,"stops":[
{"offset":0,"color":"#fff"},
{"offset":0.03,"color":"#fff"},{"offset":0.03,"color":"#ff5c5c"},{"offset":0.06,"color":"#ff5c5c"},{"offset":0.06,"color":"#fff"},
{"offset":0.1133,"color":"#fff"},{"offset":0.1133,"color":"#ff5c5c"},{"offset":0.1433,"color":"#ff5c5c"},{"offset":0.1433,"color":"#fff"},
{"offset":0.1967,"color":"#fff"},{"offset":0.1967,"color":"#ff5c5c"},{"offset":0.2267,"color":"#ff5c5c"},{"offset":0.2267,"color":"#fff"},
{"offset":0.28,"color":"#fff"},{"offset":0.28,"color":"#ff5c5c"},{"offset":0.31,"color":"#ff5c5c"},{"offset":0.31,"color":"#fff"},
{"offset":0.3633,"color":"#fff"},{"offset":0.3633,"color":"#ff5c5c"},{"offset":0.3933,"color":"#ff5c5c"},{"offset":0.3933,"color":"#fff"},
{"offset":0.4467,"color":"#fff"},{"offset":0.4467,"color":"#ff5c5c"},{"offset":0.4767,"color":"#ff5c5c"},{"offset":0.4767,"color":"#fff"},
{"offset":0.53,"color":"#fff"},{"offset":0.53,"color":"#ff5c5c"},{"offset":0.56,"color":"#ff5c5c"},{"offset":0.56,"color":"#fff"},
{"offset":0.6133,"color":"#fff"},{"offset":0.6133,"color":"#ff5c5c"},{"offset":0.6433,"color":"#ff5c5c"},{"offset":0.6433,"color":"#fff"},
{"offset":0.6967,"color":"#fff"},{"offset":0.6967,"color":"#ff5c5c"},{"offset":0.7267,"color":"#ff5c5c"},{"offset":0.7267,"color":"#fff"},
{"offset":0.78,"color":"#fff"},{"offset":0.78,"color":"#ff5c5c"},{"offset":0.81,"color":"#ff5c5c"},{"offset":0.81,"color":"#fff"},
{"offset":0.8633,"color":"#fff"},{"offset":0.8633,"color":"#ff5c5c"},{"offset":0.8933,"color":"#ff5c5c"},{"offset":0.8933,"color":"#fff"},
{"offset":0.9467,"color":"#fff"},{"offset":0.9467,"color":"#ff5c5c"},{"offset":0.9767,"color":"#ff5c5c"},{"offset":0.9767,"color":"#fff"},
{"offset":1,"color":"#fff"}]}}},
      {"mark":{"type":"bar","width":{"band":0.69},"filled":false,"strokeWidth":2},"encoding":{"color":{"field":"group","type":"nominal","scale":{"domain":["Control","P2","PDA/P2-4","PDA/P2-4@Ag"],"range":["#111111","#2e8b50","#3b1e8a","#ff2222"]},"legend":null}}},
      {"mark":{"type":"rule","strokeWidth":2},"encoding":{"y2":{"field":"upper"},"color":{"field":"group","type":"nominal","legend":null}}},
      {"mark":{"type":"tick","size":18,"thickness":2},"encoding":{"y":{"field":"upper","type":"quantitative","title":"Relative mRNA Levels"},"color":{"field":"group","type":"nominal","legend":null}}},
      {"data":{"name":"barstars"},"transform":[{"filter":"datum.panel === 'D'"}],"mark":{"type":"text","fontSize":20,"fontWeight":"bold","baseline":"alphabetic","dy":12,"color":"#000"},"encoding":{"y":{"field":"y","type":"quantitative","title":"Relative mRNA Levels"},"text":{"field":"label"}}}
     ]
    },
    {"data":{"name":"lines"},"transform":[{"filter":"datum.panel === 'D'"}],
     "encoding":{
      "x":{"field":"x","type":"quantitative","scale":{"domain":[0.5,4.5],"nice":false,"zero":false},"axis":{"orient":"top","title":"CD31","labels":false,"ticks":false,"domain":false,"grid":false,"titlePadding":15,"titleX":88,"titleAlign":"center"}},
      "y":{"field":"y","type":"quantitative","title":"Relative mRNA Levels","scale":{"domain":[0,1.5],"nice":false}}
     },
     "layer":[
      {"mark":{"type":"rule","strokeWidth":2,"color":"#000"},"encoding":{"x2":{"field":"x2"},"y2":{"field":"y2"}}},
      {"data":{"name":"brstars"},"transform":[{"filter":"datum.panel === 'D'"}],"mark":{"type":"text","fontSize":20,"fontWeight":"bold","baseline":"alphabetic","dy":12,"color":"#000"},"encoding":{"text":{"field":"label"}}}
     ]
    }
   ]
  }
  ]}
 ]}
],
"spacing": 10,
"config": {
 "font": "Liberation Sans",
 "view": {"stroke": "#000", "strokeWidth": 2},
 "axis": {"domainColor":"#000","domainWidth":2,"tickColor":"#000","tickWidth":1.5,"tickSize":4,"labelFont":"Liberation Sans","labelFontSize":13,"labelFontWeight":"bold","labelColor":"#000","titleFont":"Liberation Sans","titleFontSize":13,"titleFontWeight":"bold","titleColor":"#000","grid":false}
}
}
